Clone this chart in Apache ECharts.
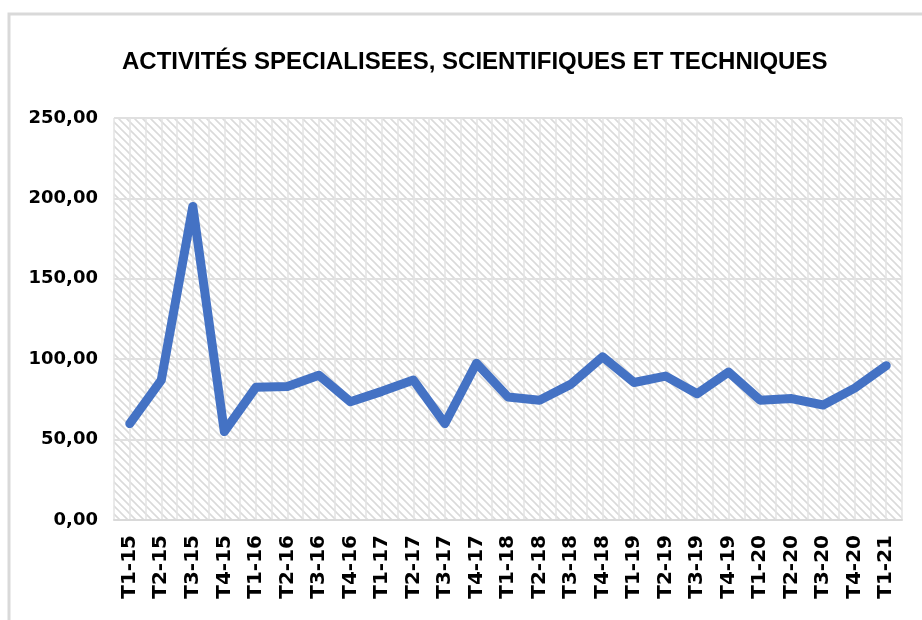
<!DOCTYPE html>
<html>
<head>
<meta charset="utf-8">
<title>Activités spécialisées</title>
<script src="https://cdn.jsdelivr.net/npm/echarts@6/dist/echarts.min.js"></script>
<style>
    html,body{margin:0;padding:0;background:#fff;}
    #chart{width:922px;height:620px;}
</style>
</head>
<body>
<div id="chart"></div>
<script>
'use strict';

// données
var TITLE = 'ACTIVITÉS SPECIALISEES, SCIENTIFIQUES ET TECHNIQUES';
var quarters = ['T1-15','T2-15','T3-15','T4-15','T1-16','T2-16','T3-16','T4-16',
    'T1-17','T2-17','T3-17','T4-17','T1-18','T2-18','T3-18','T4-18',
    'T1-19','T2-19','T3-19','T4-19','T1-20','T2-20','T3-20','T4-20','T1-21'];
var values = [60, 87, 195, 55, 82.5, 83, 90, 73.5, 80, 87, 60, 97.5,
    76.5, 74.5, 84.5, 101.5, 85.5, 89.5, 78.5, 92, 74.5, 75.5, 71.5, 82, 96];
var yTicks = {min: 0, max: 250, interval: 50};

/**
 * motif hachuré du fond de la zone de tracé
 */
function hatchPattern(){
    var size=8;
    var c=document.createElement('canvas');
    c.width=size;c.height=size;
    var ctx=c.getContext('2d');
    ctx.fillStyle='#ffffff';
    ctx.fillRect(0,0,size,size);
    ctx.strokeStyle='#dadada';
    ctx.lineWidth=1.6;
    ctx.beginPath();
    ctx.moveTo(-2,-2);ctx.lineTo(size+2,size+2);
    ctx.moveTo(-2,size-2);ctx.lineTo(2,size+2);
    ctx.moveTo(size-2,-2);ctx.lineTo(size+2,2);
    ctx.stroke();
    return c;
}

var chart=echarts.init(document.getElementById('chart'),null,{renderer:'canvas'});
var labelFont='DejaVu Sans';

chart.setOption({
    animation:false,
    backgroundColor:'#ffffff',
    title:{
        text:TITLE,
        left:117,
        top:45,
        textStyle:{fontFamily:'Liberation Sans Narrow, Arial Narrow, Liberation Sans, Arial',fontWeight:'bold',fontSize:24,color:'#000'}
    },
    graphic:[{
        type:'rect',
        shape:{x:9,y:14,width:940,height:640},
        style:{fill:'none',stroke:'#d9d9d9',lineWidth:3},
        silent:true,
        z:-1
    }],
    grid:{
        left:114,right:20,top:118,bottom:100,
        show:true,
        borderWidth:0,
        backgroundColor:{image:hatchPattern(),repeat:'repeat'}
    },
    xAxis:[{
        type:'category',
        data:quarters,
        boundaryGap:true,
        axisLine:{lineStyle:{color:'#d9d9d9',width:2}},
        axisTick:{show:false},
        splitLine:{show:false},
        axisLabel:{
            rotate:90,
            interval:0,
            margin:15,
            fontFamily:labelFont,
            fontWeight:'bold',
            fontSize:20,
            color:'#000'
        }
    },{
        // lignes verticales : frontières et milieux des catégories
        type:'value',
        min:0,max:quarters.length*2,interval:1,
        position:'top',
        axisLine:{show:false},
        axisTick:{show:false},
        axisLabel:{show:false},
        splitLine:{show:true,lineStyle:{color:'#e3e3e3',width:1.5}}
    }],
    yAxis:{
        type:'value',
        min:yTicks.min,max:yTicks.max,interval:yTicks.interval,
        axisLine:{show:false},
        axisTick:{show:false},
        splitLine:{lineStyle:{color:'#e0e0e0',width:2}},
        axisLabel:{
            margin:16,
            fontFamily:labelFont,
            fontWeight:'bold',
            fontSize:18,
            color:'#000',
            formatter:function(v){return v.toFixed(2).replace('.',',');}
        }
    },
    series:[{
        type:'line',
        xAxisIndex:0,
        data:values,
        symbol:'none',
        lineStyle:{color:'#4472c4',width:9,cap:'round',join:'round'},
        z:5
    }]
});
</script>
</body>
</html>
